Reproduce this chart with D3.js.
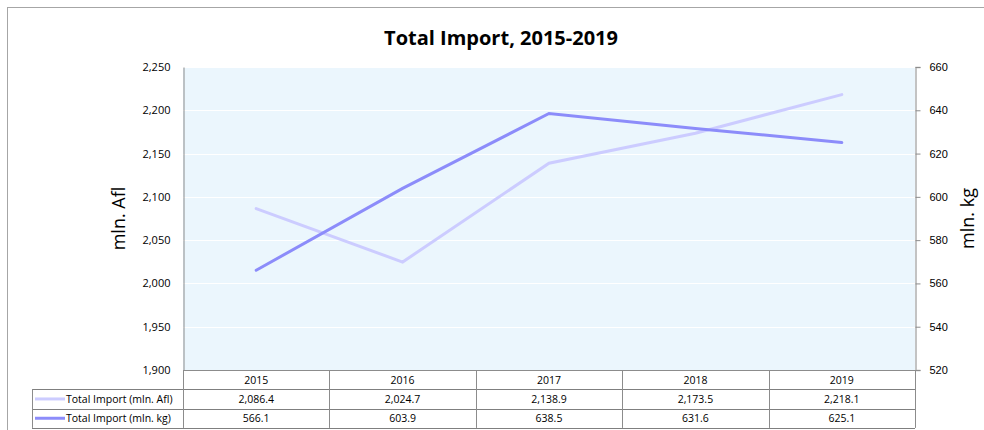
<!DOCTYPE html>
<html>
<head>
<meta charset="utf-8">
<script src="https://cdn.jsdelivr.net/npm/d3@7"></script>
<style>
  body { margin: 0; background: #fff; }
  svg { display: block; font-family: "Open Sans", "Liberation Sans", sans-serif; }
</style>
</head>
<body>
<div id="chart"></div>
<script>
// chart data
var years = ["2015", "2016", "2017", "2018", "2019"];
var importAfl = [2086.4, 2024.7, 2138.9, 2173.5, 2218.1];
var importKg = [566.1, 603.9, 638.5, 631.6, 625.1];
var seriesNames = ["Total Import (mln. Afl)", "Total Import (mln. kg)"];
var leftTicks = [1900, 1950, 2000, 2050, 2100, 2150, 2200, 2250];
var rightTicks = [520, 540, 560, 580, 600, 620, 640, 660];

var W = 984, H = 430;
var plotL = 183, plotR = 915, plotT = 67, plotB = 370;
var rowH = 19.3;
var legendL = 32;
var colors = ["#CCCCFF", "#8C8CFA"];

var svg = d3.select("#chart").append("svg")
  .attr("width", W).attr("height", H);

// outer frame
svg.append("rect")
  .attr("x", 7.5).attr("y", 7.5)
  .attr("width", W).attr("height", H)
  .attr("fill", "#fff").attr("stroke", "#a6a6a6");

svg.append("text")
  .attr("x", 501).attr("y", 45)
  .attr("text-anchor", "middle")
  .attr("font-size", 20).attr("font-weight", "bold")
  .attr("fill", "#000")
  .text("Total Import, 2015-2019");

var x = d3.scaleBand().domain(years).range([plotL, plotR]);
var yL = d3.scaleLinear().domain([1900, 2250]).range([plotB, plotT]);
var yR = d3.scaleLinear().domain([520, 660]).range([plotB, plotT]);

// plot background
svg.append("rect")
  .attr("x", plotL).attr("y", plotT)
  .attr("width", plotR - plotL).attr("height", plotB - plotT)
  .attr("fill", "#EBF6FD");

// gridlines
svg.append("g").selectAll("line")
  .data(leftTicks.slice(1))
  .join("line")
  .attr("x1", plotL).attr("x2", plotR)
  .attr("y1", d => Math.round(yL(d)) + 0.5).attr("y2", d => Math.round(yL(d)) + 0.5)
  .attr("stroke", "#fff").attr("stroke-width", 1);

// left axis
var axL = svg.append("g")
  .attr("transform", "translate(" + (plotL + 0.5) + ",0)")
  .call(d3.axisLeft(yL).tickValues(leftTicks).tickSize(0).tickPadding(13).tickFormat(d3.format(",")));
axL.select(".domain").attr("stroke", "#8c8c8c");
axL.selectAll("text").attr("font-size", 11).attr("fill", "#000")
  .attr("font-family", "'Open Sans', sans-serif");

// right axis
var axR = svg.append("g")
  .attr("transform", "translate(" + (plotR + 0.5) + ",0)")
  .call(d3.axisRight(yR).tickValues(rightTicks).tickSize(5).tickPadding(9));
axR.select(".domain").attr("stroke", "#b0b0b0").attr("stroke-width", 1.5);
axR.selectAll(".tick line").attr("stroke", "#8c8c8c");
axR.selectAll("text").attr("font-size", 11).attr("fill", "#000");

// axis titles
svg.append("text")
  .attr("transform", "translate(125," + ((plotT + plotB) / 2) + ") rotate(-90)")
  .attr("text-anchor", "middle")
  .attr("font-size", 18).attr("fill", "#000")
  .text("mln. Afl");
svg.append("text")
  .attr("transform", "translate(974," + ((plotT + plotB) / 2) + ") rotate(-90)")
  .attr("text-anchor", "middle")
  .attr("font-size", 18).attr("fill", "#000")
  .text("mln. kg");

// lines
var lineL = d3.line().x((d, i) => x(years[i]) + x.bandwidth() / 2).y(d => yL(d));
var lineR = d3.line().x((d, i) => x(years[i]) + x.bandwidth() / 2).y(d => yR(d));
svg.append("path").datum(importAfl)
  .attr("d", lineL).attr("fill", "none")
  .attr("stroke", colors[0]).attr("stroke-width", 3).attr("stroke-linecap", "round");
svg.append("path").datum(importKg)
  .attr("d", lineR).attr("fill", "none")
  .attr("stroke", colors[1]).attr("stroke-width", 3).attr("stroke-linecap", "round");

// data table
var table = svg.append("g");
var tableB = plotB + rowH * 3;
var rows = [years, importAfl.map(d3.format(",.1f")), importKg.map(d3.format(".1f"))];

// horizontal lines
[plotB, plotB + rowH, plotB + rowH * 2, tableB].forEach(function (yy, i) {
  table.append("line")
    .attr("x1", i === 0 ? plotL : legendL).attr("x2", plotR)
    .attr("y1", Math.round(yy) + 0.5).attr("y2", Math.round(yy) + 0.5)
    .attr("stroke", i === 0 ? "#8c8c8c" : "#7f7f7f");
});
// vertical lines
table.selectAll("line.v")
  .data(years.concat(["end"]))
  .join("line")
  .attr("class", "v")
  .attr("x1", (d, i) => Math.round(plotL + i * x.bandwidth()) + 0.5)
  .attr("x2", (d, i) => Math.round(plotL + i * x.bandwidth()) + 0.5)
  .attr("y1", plotB).attr("y2", tableB)
  .attr("stroke", "#8c8c8c");
table.append("line")
  .attr("x1", legendL + 0.5).attr("x2", legendL + 0.5)
  .attr("y1", plotB + rowH).attr("y2", tableB)
  .attr("stroke", "#8c8c8c");

rows.forEach(function (vals, r) {
  table.append("g").selectAll("text")
    .data(vals)
    .join("text")
    .attr("x", (d, i) => x(years[i]) + x.bandwidth() / 2)
    .attr("y", plotB + rowH * r + rowH / 2 + 4)
    .attr("text-anchor", "middle")
    .attr("font-size", 10.5).attr("fill", "#000")
    .text(d => d);
});

// legend keys in table
seriesNames.forEach(function (name, i) {
  var cy = plotB + rowH * (i + 1) + rowH / 2;
  table.append("line")
    .attr("x1", legendL + 3).attr("x2", legendL + 33)
    .attr("y1", cy).attr("y2", cy)
    .attr("stroke", colors[i]).attr("stroke-width", 3);
  table.append("text")
    .attr("x", legendL + 34).attr("y", cy + 4)
    .attr("font-size", 10.5).attr("fill", "#000")
    .text(name);
});
</script>
</body>
</html>
